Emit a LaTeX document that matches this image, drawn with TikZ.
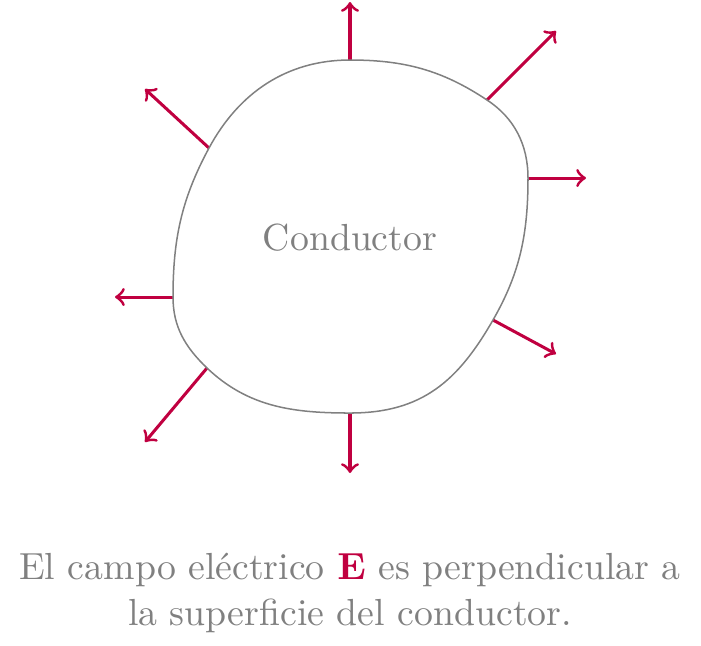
\documentclass[tikz,border=0pt]{standalone}
\usepackage{xcolor}
\definecolor{campo}{RGB}{192,0,64}
\begin{document}
\begin{tikzpicture}[
    x=0.265pt, y=-0.265pt,
    borde/.style={
        draw=gray, 
        line width=0.4pt
    },
    vector/.style={
        ->, 
        draw=campo, 
        line width=0.8pt
    },
    rotulo/.style={
        text=gray, 
        font=\normalsize
    }
]
    \useasboundingbox (0,0) rectangle (701,645);
    % puntos de la superficie y extremos de los vectores
    \foreach \name/\x/\y/\u/\v in {
        N/350/60/350/2,
        NE/487/100/556/31,
        E/528/178/586/178,
        SE/493/320/556/354,
        S/350/413/350/473,
        SO/207/368/145/442,
        O/173/297/115/297,
        NO/209/148/145/89%
    } {
        \coordinate (\name) at (\x, \y);
        \coordinate (\name') at (\u, \v);
        \draw[vector] (\name) -- (\name');
    }
    % superficie del conductor
    \draw[borde] (N) .. controls (404,60) and (442,70) .. (NE)
        .. controls (514.5,118) and (528,145) .. (E)
        .. controls (528,233) and (520.4,272.3) .. (SE)
        .. controls (458,381) and (422,413) .. (S)
        .. controls (293,413) and (248,407) .. (SO)
        .. controls (185.4,347.3) and (173,327) .. (O)
        .. controls (173,239) and (181.5,199) .. (NO)
        .. controls (238.9,92.6) and (287,60) .. (N) -- cycle;
    \node[rotulo] (cond) at (350,238) {Conductor};
    \node[rotulo, align=center] (nota) at (350,593) {El campo el\'ectrico $\mathbf{\color{campo}E}$ es perpendicular a\\la superficie del conductor.};
\end{tikzpicture}
\end{document}
